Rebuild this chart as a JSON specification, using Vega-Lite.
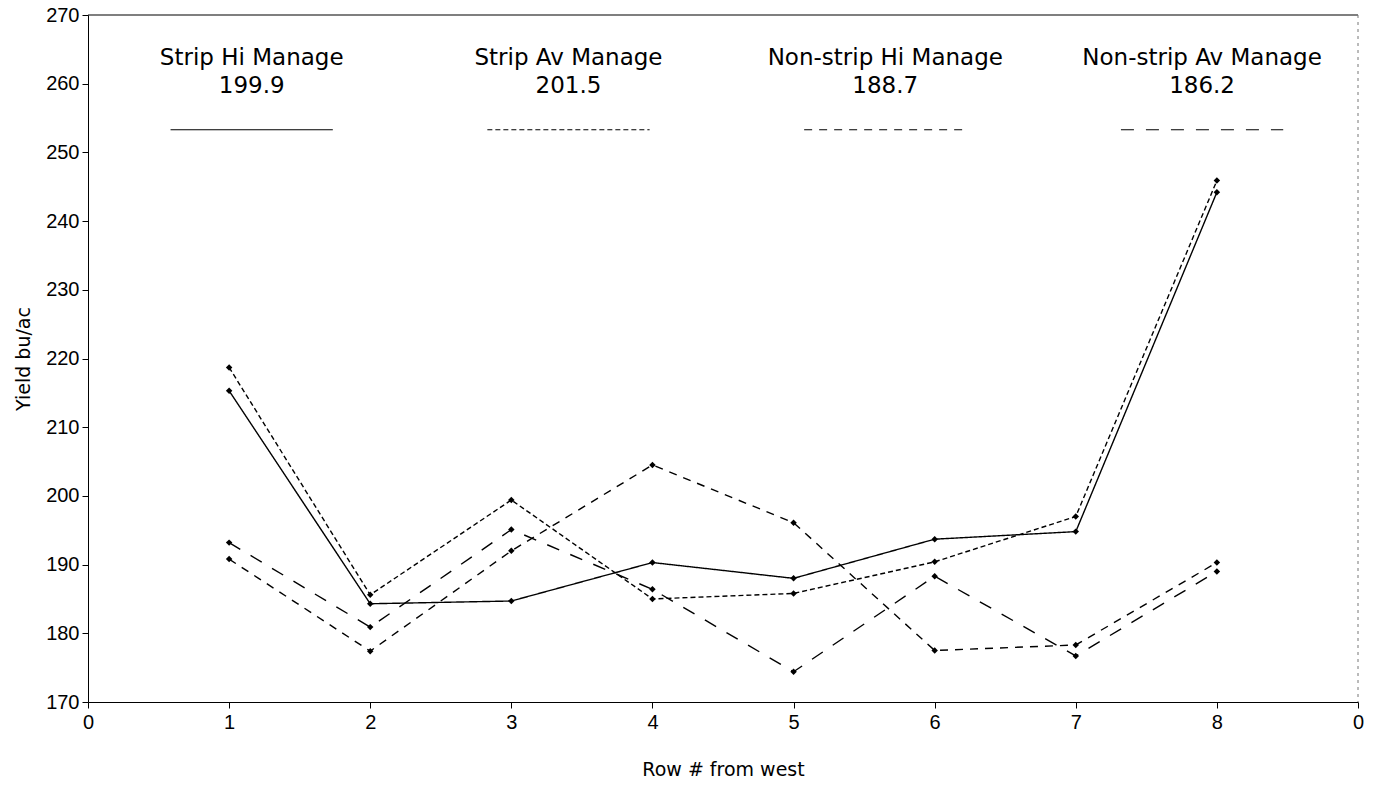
{
  "$schema": "https://vega.github.io/schema/vega-lite/v6.json",
  "width": 1270,
  "height": 687,
  "autosize": "none",
  "padding": {"left": 88, "top": 15, "right": 22, "bottom": 84},
  "background": "white",
  "config": {"view": {"stroke": null}, "font": "Liberation Sans"},
  "datasets": {
    "yield": [
      {"series": "Strip Hi Manage", "row": 1, "yield": 215.3},
      {"series": "Strip Hi Manage", "row": 2, "yield": 184.3},
      {"series": "Strip Hi Manage", "row": 3, "yield": 184.7},
      {"series": "Strip Hi Manage", "row": 4, "yield": 190.3},
      {"series": "Strip Hi Manage", "row": 5, "yield": 188.0},
      {"series": "Strip Hi Manage", "row": 6, "yield": 193.7},
      {"series": "Strip Hi Manage", "row": 7, "yield": 194.8},
      {"series": "Strip Hi Manage", "row": 8, "yield": 244.2},
      {"series": "Strip Av Manage", "row": 1, "yield": 218.7},
      {"series": "Strip Av Manage", "row": 2, "yield": 185.6},
      {"series": "Strip Av Manage", "row": 3, "yield": 199.4},
      {"series": "Strip Av Manage", "row": 4, "yield": 185.0},
      {"series": "Strip Av Manage", "row": 5, "yield": 185.8},
      {"series": "Strip Av Manage", "row": 6, "yield": 190.4},
      {"series": "Strip Av Manage", "row": 7, "yield": 197.0},
      {"series": "Strip Av Manage", "row": 8, "yield": 245.9},
      {"series": "Non-strip Hi Manage", "row": 1, "yield": 190.8},
      {"series": "Non-strip Hi Manage", "row": 2, "yield": 177.4},
      {"series": "Non-strip Hi Manage", "row": 3, "yield": 192.0},
      {"series": "Non-strip Hi Manage", "row": 4, "yield": 204.5},
      {"series": "Non-strip Hi Manage", "row": 5, "yield": 196.1},
      {"series": "Non-strip Hi Manage", "row": 6, "yield": 177.5},
      {"series": "Non-strip Hi Manage", "row": 7, "yield": 178.3},
      {"series": "Non-strip Hi Manage", "row": 8, "yield": 190.3},
      {"series": "Non-strip Av Manage", "row": 1, "yield": 193.2},
      {"series": "Non-strip Av Manage", "row": 2, "yield": 180.9},
      {"series": "Non-strip Av Manage", "row": 3, "yield": 195.1},
      {"series": "Non-strip Av Manage", "row": 4, "yield": 186.4},
      {"series": "Non-strip Av Manage", "row": 5, "yield": 174.4},
      {"series": "Non-strip Av Manage", "row": 6, "yield": 188.3},
      {"series": "Non-strip Av Manage", "row": 7, "yield": 176.7},
      {"series": "Non-strip Av Manage", "row": 8, "yield": 189.0}
    ],
    "legend": [
      {"series": "Strip Hi Manage", "mean": "199.9", "order": 1},
      {"series": "Strip Av Manage", "mean": "201.5", "order": 2},
      {"series": "Non-strip Hi Manage", "mean": "188.7", "order": 3},
      {"series": "Non-strip Av Manage", "mean": "186.2", "order": 4}
    ]
  },
  "layer": [
    {
      "data": {"name": "yield"},
      "mark": {"type": "line", "color": "black", "strokeWidth": 1.4},
      "encoding": {
        "x": {
          "field": "row", "type": "quantitative",
          "scale": {"domain": [0, 9], "nice": false, "zero": false},
          "axis": {
            "title": "Row # from west",
            "values": [0, 1, 2, 3, 4, 5, 6, 7, 8, 9],
            "format": "d",
            "labelExpr": "datum.value === 9 ? '0' : datum.label",
            "grid": false,
            "domainColor": "black", "tickColor": "black", "labelColor": "black", "titleColor": "black",
            "tickSize": 6, "labelFontSize": 20, "labelPadding": 4,
            "labelFlush": false,
            "titleFont": "DejaVu Sans",
            "titleFontSize": 19, "titleFontWeight": "normal", "titlePadding": 28
          }
        },
        "y": {
          "field": "yield", "type": "quantitative",
          "scale": {"domain": [170, 270], "nice": false, "zero": false},
          "axis": {
            "title": "Yield bu/ac",
            "values": [170, 175, 180, 185, 190, 195, 200, 205, 210, 215, 220, 225, 230, 235, 240, 245, 250, 255, 260, 265, 270],
            "labelExpr": "datum.value % 10 === 0 ? datum.label : ''",
            "tickSize": {"condition": {"test": "datum.value % 10 !== 0", "value": 3}, "value": 6},
            "grid": false,
            "domainColor": "black", "tickColor": "black", "labelColor": "black", "titleColor": "black",
            "labelFontSize": 20, "labelPadding": 3, "labelFlush": false,
            "titleFont": "DejaVu Sans",
            "titleFontSize": 19, "titleFontWeight": "normal", "titlePadding": 12
          }
        },
        "detail": {"field": "series", "type": "nominal"},
        "strokeDash": {
          "field": "series", "type": "nominal",
          "scale": {
            "domain": ["Strip Hi Manage", "Strip Av Manage", "Non-strip Hi Manage", "Non-strip Av Manage"],
            "range": [[1, 0], [5, 3], [8, 7], [13, 12]]
          },
          "legend": null
        }
      }
    },
    {
      "data": {"name": "yield"},
      "mark": {"type": "point", "shape": "diamond", "filled": true, "color": "black", "size": 42, "opacity": 1},
      "encoding": {
        "x": {"field": "row", "type": "quantitative"},
        "y": {"field": "yield", "type": "quantitative"}
      }
    },
    {
      "data": {"name": "legend"},
      "transform": [
        {"calculate": "1.16 + 2.245 * (datum.order - 1)", "as": "xmid"},
        {"calculate": "datum.xmid - 0.575", "as": "xstart"},
        {"calculate": "datum.xmid + 0.575", "as": "xend"}
      ],
      "layer": [
        {
          "mark": {"type": "rule", "color": "black", "strokeWidth": 1.2},
          "encoding": {
            "x": {"field": "xstart", "type": "quantitative"},
            "x2": {"field": "xend"},
            "y": {"datum": 253.3},
            "strokeDash": {
              "field": "series", "type": "nominal",
              "scale": {
                "domain": ["Strip Hi Manage", "Strip Av Manage", "Non-strip Hi Manage", "Non-strip Av Manage"],
                "range": [[1, 0], [5, 3], [8, 7], [13, 12]]
              },
              "legend": null
            }
          }
        },
        {
          "mark": {"type": "text", "font": "DejaVu Sans", "fontSize": 23, "color": "black", "align": "center", "baseline": "middle"},
          "encoding": {
            "x": {"field": "xmid", "type": "quantitative"},
            "y": {"datum": 263.8},
            "text": {"field": "series"}
          }
        },
        {
          "mark": {"type": "text", "font": "DejaVu Sans", "fontSize": 23, "color": "black", "align": "center", "baseline": "middle"},
          "encoding": {
            "x": {"field": "xmid", "type": "quantitative"},
            "y": {"datum": 259.6},
            "text": {"field": "mean"}
          }
        }
      ]
    },
    {
      "data": {"values": [{}]},
      "mark": {"type": "rule", "color": "black", "strokeWidth": 1.2},
      "encoding": {"y": {"datum": 270}}
    },
    {
      "data": {"values": [{}]},
      "mark": {"type": "rule", "color": "#777777", "strokeWidth": 1, "strokeDash": [3, 4]},
      "encoding": {"x": {"datum": 9}}
    }
  ]
}
